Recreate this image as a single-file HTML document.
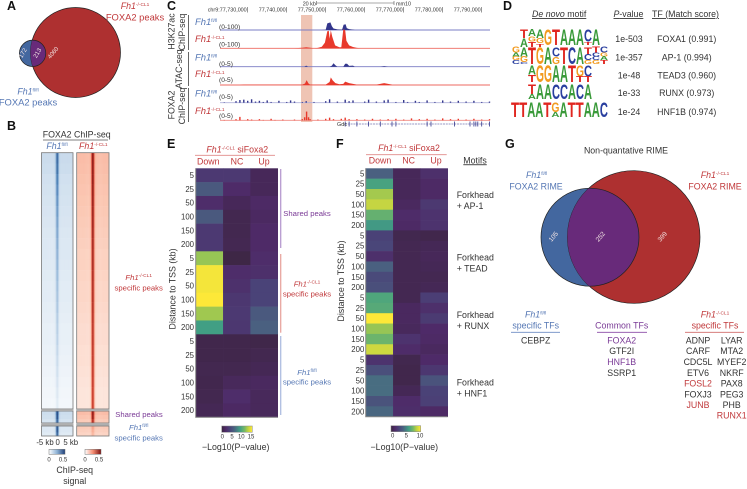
<!DOCTYPE html>
<html lang="en">
<head>
<meta charset="utf-8">
<title>FOXA2 figure</title>
<style>
html,body{margin:0;padding:0;background:#fff;width:747px;height:489px;overflow:hidden}
svg{display:block;font-family:"Liberation Sans",sans-serif;filter:blur(.3px)}
text{fill:#333;font-size:8.8px}
.m{text-anchor:middle}.r{text-anchor:end}
.red{fill:#c0383a}.blue{fill:#5577b4}.pur{fill:#7a3a96}
.s7{font-size:7.7px}.tick{font-size:7.8px}
.pl{font-size:12.5px;font-weight:bold;fill:#111}
.it{font-style:italic}
.sup{font-size:4.8px}
.vn{fill:#f3e4e4;font-size:6px}
.rng{font-size:6.6px}
.co{font-size:5.4px}
.fh{font-size:9.4px;font-style:italic}
</style>
</head>
<body>
<svg id="fig" width="747" height="489" viewBox="0 0 747 489" xmlns="http://www.w3.org/2000/svg">
<defs>
<clipPath id="clipA"><circle cx="75.5" cy="52.5" r="45"/></clipPath>
<clipPath id="clipG"><circle cx="633.7" cy="237" r="66.3"/></clipPath>
<linearGradient id="gradVir"><stop offset="0" stop-color="#3b2640"/><stop offset=".13" stop-color="#4e2a68"/><stop offset=".27" stop-color="#4a4478"/><stop offset=".4" stop-color="#4a6080"/><stop offset=".6" stop-color="#419f84"/><stop offset=".75" stop-color="#77b966"/><stop offset=".85" stop-color="#b7d044"/><stop offset="1" stop-color="#fde838"/></linearGradient>
<linearGradient id="gradBlue"><stop offset="0" stop-color="#fff"/><stop offset=".5" stop-color="#8fb3d6"/><stop offset="1" stop-color="#1f3f78"/></linearGradient>
<linearGradient id="gradRed"><stop offset="0" stop-color="#fff"/><stop offset=".5" stop-color="#f58d72"/><stop offset="1" stop-color="#7a1010"/></linearGradient>
</defs>

<!-- Panel letters -->
<text class="pl" x="7" y="10">A</text>
<text class="pl" x="7" y="130">B</text>
<text class="pl" x="167" y="10">C</text>
<text class="pl" x="503" y="10">D</text>
<text class="pl" x="167" y="148">E</text>
<text class="pl" x="336" y="148">F</text>
<text class="pl" x="505" y="148">G</text>

<!-- Panel A -->
<g>
<circle cx="32.6" cy="53.3" r="13.2" fill="#43679f" stroke="#222" stroke-width=".7"/>
<circle cx="75.5" cy="52.5" r="45" fill="#ae3030" stroke="#222" stroke-width=".7"/>
<circle cx="32.6" cy="53.3" r="13.2" fill="#682a7a" stroke="#222" stroke-width=".7" clip-path="url(#clipA)"/>
<text class="vn m" transform="translate(24.5,54) rotate(-60)">172</text>
<text class="vn m" transform="translate(39,54) rotate(-60)">213</text>
<text class="vn m" transform="translate(54.5,54) rotate(-50)">4060</text>
</g>
<text class="m red" x="135" y="9"><tspan class="it">Fh1</tspan><tspan class="sup" dy="-3">-/-CL1</tspan></text>
<text class="m red" x="135" y="20.5" style="font-size:9.4px">FOXA2 peaks</text>
<text class="m blue" x="28" y="94.5"><tspan class="it">Fh1</tspan><tspan class="sup" dy="-3">fl/fl</tspan></text>
<text class="m blue" x="28" y="105.7" style="font-size:9.4px">FOXA2 peaks</text>

<!-- Panel B static -->
<text class="m" x="76.7" y="137.3">FOXA2 ChIP-seq</text>
<line x1="43" x2="108" y1="140" y2="140" stroke="#555" stroke-width=".8"/>
<text class="m blue" x="57" y="149"><tspan class="it">Fh1</tspan><tspan class="sup" dy="-3">fl/fl</tspan></text>
<text class="m red" x="93.3" y="149"><tspan class="it">Fh1</tspan><tspan class="sup" dy="-3">-/-CL1</tspan></text>
<g id="chipHeat"></g>
<text class="m red s7" x="138.7" y="280"><tspan class="it">Fh1</tspan><tspan class="sup" dy="-3">-/-CL1</tspan></text>
<text class="m red s7" x="138.7" y="290.5">specific peaks</text>
<text class="m pur s7" x="139" y="417">Shared peaks</text>
<text class="m blue s7" x="138.7" y="430"><tspan class="it">Fh1</tspan><tspan class="sup" dy="-3">fl/fl</tspan></text>
<text class="m blue s7" x="138.7" y="440.5">specific peaks</text>
<text class="m tick" x="45" y="445">-5 kb</text>
<text class="m tick" x="57.7" y="445">0</text>
<text class="m tick" x="70.7" y="445">5 kb</text>
<rect x="49" y="449.3" width="16" height="5" fill="url(#gradBlue)" stroke="#777" stroke-width=".5"/>
<rect x="85" y="449.3" width="16" height="5" fill="url(#gradRed)" stroke="#777" stroke-width=".5"/>
<text class="m" style="font-size:6px" x="49" y="461.7">0</text>
<text class="m" style="font-size:6px" x="63" y="461.7">0.5</text>
<text class="m" style="font-size:6px" x="85" y="461.7">0</text>
<text class="m" style="font-size:6px" x="99" y="461.7">0.5</text>
<text class="m" x="74.7" y="473">ChIP-seq</text>
<text class="m" x="74.7" y="484">signal</text>

<!-- Panel C static -->
<rect x="301" y="15" width="11.3" height="107" fill="#efc4b4"/>
<text class="co" x="302.7" y="5.5">20 kb</text>
<path d="M316.7 1V5M316.7 3H394M394 1V5" stroke="#555" stroke-width=".6" fill="none"/>
<text class="co" x="396" y="5.5">mm10</text>
<g id="genomeAxis"></g>
<g id="tracks"></g>
<text class="m" transform="translate(174.5,31.5) rotate(-90)">H3K27ac</text>
<text class="m" transform="translate(185,32) rotate(-90)">ChIP-seq</text>
<text class="m" transform="translate(182,69) rotate(-90)">ATAC-seq</text>
<text class="m" transform="translate(174.5,105) rotate(-90)">FOXA2</text>
<text class="m" transform="translate(185,106) rotate(-90)">ChIP-seq</text>
<path d="M188.5 15V50M188.5 52V86M188.5 88V122" stroke="#555" stroke-width=".9" fill="none"/>
<text class="fh blue" x="195" y="25">Fh1<tspan class="sup" dy="-3" style="font-style:normal">fl/fl</tspan></text>
<text class="fh red" x="195" y="42">Fh1<tspan class="sup" dy="-3" style="font-style:normal">-/-CL1</tspan></text>
<text class="fh blue" x="195" y="60.7">Fh1<tspan class="sup" dy="-3" style="font-style:normal">fl/fl</tspan></text>
<text class="fh red" x="195" y="77">Fh1<tspan class="sup" dy="-3" style="font-style:normal">-/-CL1</tspan></text>
<text class="fh blue" x="195" y="96.7">Fh1<tspan class="sup" dy="-3" style="font-style:normal">fl/fl</tspan></text>
<text class="fh red" x="195" y="114">Fh1<tspan class="sup" dy="-3" style="font-style:normal">-/-CL1</tspan></text>
<text class="rng" x="219" y="29">(0-100)</text>
<text class="rng" x="219" y="46.5">(0-100)</text>
<text class="rng" x="219" y="66">(0-5)</text>
<text class="rng" x="219" y="82">(0-5)</text>
<text class="rng" x="219" y="99">(0-5)</text>
<text class="rng" x="219" y="118">(0-5)</text>
<text class="co" x="337" y="126">Gdc</text>

<!-- Panel D static -->
<text class="it" x="532" y="17" text-decoration="underline">De novo <tspan style="font-style:normal">motif</tspan></text>
<text x="613.5" y="17" text-decoration="underline"><tspan class="it">P</tspan>-value</text>
<text x="652" y="17" text-decoration="underline">TF (Match score)</text>
<g id="logos"></g>
<g id="motifTable"></g>

<!-- Panel E/F static -->
<text class="m red" x="237.3" y="152.7"><tspan class="it">Fh1</tspan><tspan class="sup" dy="-3">-/-CL1</tspan><tspan dy="3"> siFoxa2</tspan></text>
<line x1="195" x2="275" y1="155.3" y2="155.3" stroke="#e08a88" stroke-width=".9"/>
<g id="heatE"></g>
<text class="m" transform="translate(175.5,289) rotate(-90)">Distance to TSS (kb)</text>
<line x1="280.7" x2="280.7" y1="169" y2="248" stroke="#b79ad0" stroke-width="1.3"/>
<line x1="280.7" x2="280.7" y1="254" y2="332.7" stroke="#e8a5a0" stroke-width="1.3"/>
<line x1="280.7" x2="280.7" y1="336" y2="415" stroke="#aebde0" stroke-width="1.3"/>
<text class="m pur s7" x="307" y="216">Shared peaks</text>
<text class="m red s7" x="307" y="286.7"><tspan class="it">Fh1</tspan><tspan class="sup" dy="-3">-/-CL1</tspan></text>
<text class="m red s7" x="307" y="296.5">specific peaks</text>
<text class="m blue s7" x="307" y="375"><tspan class="it">Fh1</tspan><tspan class="sup" dy="-3">fl/fl</tspan></text>
<text class="m blue s7" x="307" y="384.5">specific peaks</text>
<rect x="221.7" y="426" width="30.6" height="6.3" fill="url(#gradVir)" stroke="#888" stroke-width=".5"/>
<text class="m" style="font-size:6px" x="222.3" y="438.3">0</text>
<text class="m" style="font-size:6px" x="232" y="438.3">5</text>
<text class="m" style="font-size:6px" x="241.3" y="438.3">10</text>
<text class="m" style="font-size:6px" x="251" y="438.3">15</text>
<text class="m" x="235.7" y="450">&#8722;Log10(P&#8722;value)</text>

<text class="m red" x="409" y="151"><tspan class="it">Fh1</tspan><tspan class="sup" dy="-3">-/-CL1</tspan><tspan dy="3"> siFoxa2</tspan></text>
<line x1="366" x2="446.7" y1="154.7" y2="154.7" stroke="#e08a88" stroke-width=".9"/>
<g id="heatF"></g>
<text class="m" transform="translate(344,281) rotate(-90)">Distance to TSS (kb)</text>
<text x="463.3" y="163.3" text-decoration="underline">Motifs</text>
<text x="456.7" y="198">Forkhead</text>
<text x="456.7" y="209">+ AP-1</text>
<text x="456.7" y="260.7">Forkhead</text>
<text x="456.7" y="271.7">+ TEAD</text>
<text x="456.7" y="318">Forkhead</text>
<text x="456.7" y="329">+ RUNX</text>
<text x="456.7" y="385.7">Forkhead</text>
<text x="456.7" y="396.5">+ HNF1</text>
<rect x="391" y="425.7" width="29.7" height="6" fill="url(#gradVir)" stroke="#888" stroke-width=".5"/>
<text class="m" style="font-size:6px" x="392.7" y="437.7">0</text>
<text class="m" style="font-size:6px" x="406.3" y="437.7">5</text>
<text class="m" style="font-size:6px" x="420" y="437.7">10</text>
<text class="m" x="404.3" y="450">&#8722;Log10(P&#8722;value)</text>

<!-- Panel G -->
<text class="m" x="626" y="153.3">Non-quantative RIME</text>
<text class="m blue" x="536.7" y="178"><tspan class="it">Fh1</tspan><tspan class="sup" dy="-3">fl/fl</tspan></text>
<text class="m blue" x="536" y="189.3">FOXA2 RIME</text>
<text class="m red" x="715" y="178"><tspan class="it">Fh1</tspan><tspan class="sup" dy="-3">-/-CL1</tspan></text>
<text class="m red" x="715" y="189.3">FOXA2 RIME</text>
<g>
<circle cx="590" cy="237.2" r="49" fill="#43679f" stroke="#222" stroke-width=".7"/>
<circle cx="633.7" cy="237" r="66.3" fill="#ae3030" stroke="#222" stroke-width=".7"/>
<circle cx="590" cy="237.2" r="49" fill="#682a7a" stroke="#222" stroke-width=".7" clip-path="url(#clipG)"/>
<text class="vn m" style="font-size:6.5px" transform="translate(555,238) rotate(-50)">105</text>
<text class="vn m" style="font-size:6.5px" transform="translate(602,238) rotate(-50)">252</text>
<text class="vn m" style="font-size:6.5px" transform="translate(664,238) rotate(-50)">399</text>
</g>
<text class="m blue" x="535.7" y="317.3"><tspan class="it">Fh1</tspan><tspan class="sup" dy="-3">fl/fl</tspan></text>
<text class="m blue" x="535.7" y="328.3">specific TFs</text>
<line x1="511" x2="560" y1="332.3" y2="332.3" stroke="#6d8cc4" stroke-width=".9"/>
<text class="m" x="535.7" y="343.3">CEBPZ</text>
<text class="m pur" x="621.7" y="328.3">Common TFs</text>
<line x1="597" x2="647" y1="332.3" y2="332.3" stroke="#8a4aa6" stroke-width=".9"/>
<text class="m pur" x="621.7" y="343.3">FOXA2</text>
<text class="m" x="621.7" y="354">GTF2I</text>
<text class="m pur" x="621.7" y="365">HNF1B</text>
<text class="m" x="621.7" y="376">SSRP1</text>
<text class="m red" x="715" y="317.3"><tspan class="it">Fh1</tspan><tspan class="sup" dy="-3">-/-CL1</tspan></text>
<text class="m red" x="715" y="328.3">specific TFs</text>
<line x1="685" x2="744" y1="332.3" y2="332.3" stroke="#d06a68" stroke-width=".9"/>
<text class="m" x="698" y="343.3">ADNP</text>
<text class="m" x="731.7" y="343.3">LYAR</text>
<text class="m" x="698" y="354">CARF</text>
<text class="m" x="731.7" y="354">MTA2</text>
<text class="m" x="698" y="365">CDC5L</text>
<text class="m" x="731.7" y="365">MYEF2</text>
<text class="m" x="698" y="376">ETV6</text>
<text class="m" x="731.7" y="376">NKRF</text>
<text class="m red" x="698" y="386.7">FOSL2</text>
<text class="m" x="731.7" y="386.7">PAX8</text>
<text class="m" x="698" y="397.5">FOXJ3</text>
<text class="m" x="731.7" y="397.5">PEG3</text>
<text class="m red" x="698" y="408">JUNB</text>
<text class="m" x="731.7" y="408">PHB</text>
<text class="m red" x="731.7" y="418.7">RUNX1</text>
</svg>

<script>
// ---------- Heatmap data ----------
const heatColumns = ['Down', 'NC', 'Up'];
const heatERows = ['5','25','50','100','150','200','5','25','50','100','150','200','5','25','50','100','150','200'];
const heatEDown = [3.2,5.5,2.2,5.5,3.2,3.2,12,14.7,14.7,15,12.2,9,0.6,0.6,0.8,0.7,0.8,1];
const heatENC = [3.2,2,1.2,0.8,0.8,0.9,0.3,2.2,2.5,3,3.2,3,0.6,0.6,0.8,1.3,2.2,1.7];
const heatEUp = [1.2,1.2,1.8,1.6,1.9,1.9,2.2,2.4,4,4,5.5,6,0.5,0.8,1,1.5,1.3,1.3];
const heatEMax = 15;
const heatFRows = ['5','25','50','100','150','200','5','25','50','100','150','200','5','25','50','100','150','200','5','25','50','100','150','200'];
const heatFDown = [4,6.2,8.2,8.8,7,5.8,2.6,2.8,1.6,4,3,3.2,6.4,6.6,10,8,7.2,9,1.8,3.2,4.4,4.4,3.4,4.2];
const heatFNC = [0.8,0.8,0.8,1,1.4,1.2,0.5,0.6,0.6,0.6,0.6,0.6,0.6,1,1,0.9,1.8,1.4,0.5,0.4,0.4,0.7,1.4,1.5];
const heatFUp = [1.6,1.2,1.2,2.1,1.8,1.8,0.4,0.7,0.8,0.7,0.6,0.7,2.4,1.6,2.2,1.3,1.2,1,1.3,2,3.4,2.6,2.5,1.2];
const heatFMax = 10;

// ---------- ChIP heatmap data ----------
const chipFlank = [1,1,1,1,1,1,1,1,1,1,1,1,1,1,1,1,1,1,1,1,1,1,1,1,1,1,1,1,1,1,1];
const chipPeak = [0,0,0,0,0,0,0,0,0,0,0,0,.02,.1,.6,1,.6,.1,.02,0,0,0,0,0,0,0,0,0,0,0,0];
const chipWtFlankGain = [.27,.26,.24,.23,.22,.21,.2,.19,.18,.18,.17,.16,.15,.15,.14,.13,.12,.12,.11,.1,.09,.08,.07,.06];
const chipWtPeakGain = [.62,.6,.56,.52,.48,.45,.42,.4,.38,.35,.34,.32,.3,.28,.27,.25,.24,.22,.2,.18,.16,.14,.12,.1];
const chipKoFlankGain = [.3,.29,.28,.27,.26,.25,.24,.23,.22,.21,.21,.2,.19,.19,.18,.17,.16,.16,.15,.15,.14,.13,.12,.12];
const chipKoPeakGain = [.72,.72,.72,.72,.72,.72,.72,.72,.72,.72,.72,.72,.72,.72,.72,.72,.72,.72,.72,.72,.72,.72,.72,.72];
const chipSections = ['ko-specific', 'shared', 'wt-specific'];
const chipSectionRows = [24, 3, 3];
const sharedWtFlank = [.26,.25,.22];
const sharedWtPeak = [.8,.75,.7];
const sharedKoFlank = [.3,.27,.24];
const sharedKoPeak = [.7,.72,.66];
const wtSpecWtFlank = [.18,.18,.16];
const wtSpecWtPeak = [.8,.8,.75];
const wtSpecKoFlank = [.24,.22,.2];
const wtSpecKoPeak = [.18,.16,.14];

// ---------- Genome tracks (kb from 77,730,000) ----------
const genomeTickKb = [0,10,20,30,40,50,60];
const genomeTickLabels = ['chr9:77,730,000','77,740,000','77,750,000','77,760,000','77,770,000','77,780,000','77,790,000'];
const h3k27WtKb = [19,20,20.4,21.2,21.6,22,23,24.2,24.6,25.1,25.4,26,27,27.5];
const h3k27WtVal = [0,1,35,40,20,8,3,2,28,30,10,5,2,0];
const h3k27KoKb = [12,14,15,16,17,18,19,19.8,20.4,20.8,21,21.3,21.7,22.4,23.5,24,24.5,25,25.3,26,27,28,29];
const h3k27KoVal = [0,3,5,3,0,2,8,30,90,92,50,95,60,15,6,6,100,95,40,15,7,2,0];
const atacWtKb = [14.5,15,15.5,21,21.6,22,22.5,23,24.5,25,25.5,26,27,27.5,34,35,36];
const atacWtVal = [0,.3,0,0,.3,.9,.4,0,0,.8,.8,.2,.3,0,0,.15,0];
const atacKoKb = [-2,-1,14,14.7,15.1,15.6,16,20,21,21.3,21.8,22.5,23.5,24.5,25,26,27,28,33,35,37];
const atacKoVal = [0,.1,.1,.4,1.3,.4,.1,.1,.8,2,1.2,.5,.2,.3,.9,.5,.3,.1,.1,.5,.1];
const foxa2WtKb = [-6,-3,-2,-1,0,1,2,3,4,5,6,8,10,11,12,14,15,17,20,21,23,25,26,27,30,31,33,35,36,38,40,41,43,44,46,48,50,52,54,56,58,60,62];
const foxa2WtVal = [.1,.4,.7,.8,.5,.9,.3,.5,.2,.6,.2,.5,.2,.6,.3,.2,.4,.2,.4,.9,.3,.8,.4,.6,.3,.8,.3,.6,.8,.2,.7,.2,.5,.2,.6,.2,.6,.3,.5,.3,.5,.2,.3];
const foxa2KoKb = [-6,-3,-2,0,1,3,4,6,7,9,12,14,14.6,15.1,15.6,16,18,20,21,22,24,25,26,28,30,32,34,36,38,40,42,44,46,48,50,52,54,56,58,60,62];
const foxa2KoVal = [.1,.3,.9,.3,.2,.3,.1,.4,.1,.2,.2,.3,.8,2.3,.8,.3,.2,.4,.7,.3,.4,.7,.3,.3,.2,.4,.2,.3,.4,.2,.5,.3,.4,.2,.5,.3,.4,.2,.4,.2,.3];
const geneExonKb = [25,26,28,31,34,37,38,46,47,53,57,58,58.5,59,60,62];

// ---------- Motif table ----------
const motifPValues = ['1e-503','1e-357','1e-48','1e-33','1e-24'];
const motifTFs = ['FOXA1 (0.991)','AP-1 (0.994)','TEAD3 (0.960)','RUNX (0.973)','HNF1B (0.974)'];
const logoRow1 = ['T5A5','A4G3T3','A5G3T2','G9','T9','A9','A9','A9','C7T2','A9'];
const logoRow2 = ['G3A2G2C2','A5G3C1','T9','G9','A9','C5G4','T9','C9','A9','T4C3G2','T3C2C2G2','C3G2A2T2'];
const logoRow3 = ['A5T4','G9','G9','A9','A9','T9','G6T3','C6T3'];
const logoRow4 = ['T6A3','A9','A9','C9','C9','A9','C9','A9'];
const logoRow5 = ['T9','T9','A9','A9','T9','G6A3','A9','T9','T9','A9','A9','C9'];

const NS = 'http://www.w3.org/2000/svg';
function make(tag, attrs, parent) {
  const e = document.createElementNS(NS, tag);
  for (const k in attrs) e.setAttribute(k, attrs[k]);
  parent.appendChild(e);
  return e;
}
function hex2(a){return [parseInt(a.slice(1,3),16),parseInt(a.slice(3,5),16),parseInt(a.slice(5,7),16)];}
function ramp(stops, t) {
  t = Math.max(0, Math.min(1, t));
  for (let i = 1; i < stops.length; i++) {
    if (t <= stops[i][0]) {
      const a = stops[i-1], b = stops[i], f = (t-a[0])/(b[0]-a[0]);
      const ca = hex2(a[1]), cb = hex2(b[1]);
      return 'rgb(' + ca.map((c,j)=>Math.round(c+(cb[j]-c)*f)).join(',') + ')';
    }
  }
  return stops[stops.length-1][1];
}
const virStops = [[0,'#3b2640'],[.13,'#4e2a68'],[.27,'#4a4478'],[.4,'#4a6080'],[.6,'#419f84'],[.75,'#77b966'],[.85,'#b7d044'],[1,'#fde838']];
const blueStops = [[0,'#ffffff'],[.25,'#cfdfee'],[.5,'#8fb3d6'],[.8,'#3f76b0'],[1,'#1f3f78']];
const redStops = [[0,'#ffffff'],[.25,'#fbc9b5'],[.5,'#f58d72'],[.8,'#cb2f22'],[1,'#7a1010']];

// ---------- Viridis-style heatmaps ----------
function drawHeat(root, prefix, rows, cols, max, left, right, top, bottom, labelRight, headerY, headerXs) {
  const cw = (right-left)/3, rh = (bottom-top)/rows.length;
  const xScale = c => left + c*cw;
  const yScale = r => top + r*rh;
  cols.forEach((series, c) => {
    series.forEach((v, r) => {
      const cell = make('rect', {x:xScale(c), y:yScale(r), width:cw+.3, height:rh+.3, fill:ramp(virStops, v/max)}, root);
      
      
    });
  });
  rows.forEach((label, r) => {
    const t = make('text', {x:labelRight, y:yScale(r)+rh/2+2.8, class:'r tick'}, root);
    t.textContent = label;
    
    
  });
  heatColumns.forEach((label, c) => {
    const t = make('text', {x:headerXs[c], y:headerY, class:'m red'}, root);
    t.textContent = label;
    
    
  });
  const frame = make('path', {d:'M'+left+' '+top+'V'+bottom+'H'+right, stroke:'#888', 'stroke-width':1, fill:'none'}, root);
  
  
}
drawHeat(document.getElementById('heatE'), 'heatmap-e', heatERows, [heatEDown, heatENC, heatEUp], heatEMax, 195.7, 277.7, 168.3, 417.3, 194, 164.7, [208.3,237,264]);
drawHeat(document.getElementById('heatF'), 'heatmap-f', heatFRows, [heatFDown, heatFNC, heatFUp], heatFMax, 365.7, 447.7, 168.3, 416.7, 364.3, 163.3, [380,408.7,436]);

// ---------- ChIP heatmaps ----------
function drawChip(root, prefix, left, right, stops, gains) {
  const cw = (right-left)/chipPeak.length;
  const tops = [152.7, 411, 426], bottoms = [409, 423, 436];
  gains.forEach((g, s) => {
    const rows = g.flank.length, rh = (bottoms[s]-tops[s])/rows;
    for (let r = 0; r < rows; r++) {
      chipPeak.forEach((pk, c) => {
        const v = chipFlank[c]*g.flank[r] + pk*g.peak[r];
        const cell = make('rect', {x:left+c*cw, y:tops[s]+r*rh, width:cw+.2, height:rh+.2, fill:ramp(stops, v)}, root);
        
        
      });
    }
    const frame = make('rect', {x:left, y:tops[s], width:right-left, height:bottoms[s]-tops[s], fill:'none', stroke:'#777', 'stroke-width':.8}, root);
    
    
  });
  [410, 424.5].forEach(y => {
    const sep = make('rect', {x:left-.5, y:y-.8, width:right-left+1, height:1.8, fill:'#b0b0b0'}, root);
    
    
  });
}
const chipRoot = document.getElementById('chipHeat');
drawChip(chipRoot, 'chip-wt', 41.5, 73, blueStops, [{flank:chipWtFlankGain, peak:chipWtPeakGain},{flank:sharedWtFlank, peak:sharedWtPeak},{flank:wtSpecWtFlank, peak:wtSpecWtPeak}]);
drawChip(chipRoot, 'chip-ko', 76.7, 109, redStops, [{flank:chipKoFlankGain, peak:chipKoPeakGain},{flank:sharedKoFlank, peak:sharedKoPeak},{flank:wtSpecKoFlank, peak:wtSpecKoPeak}]);

// ---------- Genome browser ----------
const gx = kb => 247.7 + kb*3.9;
const axisRoot = document.getElementById('genomeAxis');
genomeTickKb.forEach((kb, i) => {
  const tk = make('line', {x1:gx(kb), x2:gx(kb), y1:7, y2:12.5, stroke:'#555', 'stroke-width':.6}, axisRoot);
  
  
  const t = make('text', {x:gx(kb)-1, y:11.5, class:'r co'}, axisRoot);
  t.textContent = genomeTickLabels[i];
  
  
});
function trackBase(root, name, baseY, lineCol) {
  const base = make('line', {x1:220, x2:490, y1:baseY, y2:baseY, stroke:lineCol, 'stroke-width':.9}, root);
  
  
}
function drawTrack(root, name, kb, val, max, baseY, px, fill, lineCol) {
  const y = v => baseY - v/max*px;
  const pts = [[gx(kb[0]), baseY]];
  kb.forEach((k, i) => pts.push([gx(k), y(val[i])]));
  pts.push([gx(kb[kb.length-1]), baseY]);
  trackBase(root, name, baseY, lineCol);
  const poly = make('polygon', {points:pts.map(p=>p[0].toFixed(1)+','+p[1].toFixed(1)).join(' '), fill:fill}, root);
  
  
}
function drawSpikes(root, name, kb, val, max, baseY, px, fill, lineCol) {
  const y = v => baseY - v/max*px;
  trackBase(root, name, baseY, lineCol);
  kb.forEach((k, i) => {
    const bar = make('rect', {x:gx(k)-.7, y:y(val[i]), width:1.4, height:baseY-y(val[i]), fill:fill}, root);
    
    
  });
}
const trackRoot = document.getElementById('tracks');
drawTrack(trackRoot, 'track-h3k27ac-wt', h3k27WtKb, h3k27WtVal, 100, 30, 19, '#33368c', '#7a7cc4');
drawTrack(trackRoot, 'track-h3k27ac-ko', h3k27KoKb, h3k27KoVal, 100, 48.3, 19, '#e8392c', '#ee6a60');
drawTrack(trackRoot, 'track-atac-wt', atacWtKb, atacWtVal, 5, 66.7, 19, '#33368c', '#7a7cc4');
drawTrack(trackRoot, 'track-atac-ko', atacKoKb, atacKoVal, 5, 85, 19, '#e8392c', '#ee6a60');
drawSpikes(trackRoot, 'track-foxa2-wt', foxa2WtKb, foxa2WtVal, 5, 102.7, 19, '#33368c', '#b0b2dc');
drawSpikes(trackRoot, 'track-foxa2-ko', foxa2KoKb, foxa2KoVal, 5, 120.3, 19, '#e8392c', '#f08a82');
const geneLine = make('line', {x1:345, x2:490, y1:124, y2:124, stroke:'#33368c', 'stroke-width':.6, 'stroke-dasharray':'2 .8'}, trackRoot);


geneExonKb.forEach(kb => {
  const ex = make('line', {x1:gx(kb), x2:gx(kb), y1:121.5, y2:126.5, stroke:'#33368c', 'stroke-width':.8}, trackRoot);
  
  
});

// ---------- Motif logos ----------
const logoColors = {A:'#3a9a3a', C:'#2a3f9f', G:'#f29b20', T:'#e0251f'};
const logoAdvance = {A:7.22, C:7.22, G:7.78, T:6.11};
function drawLogo(root, idx, stacks, left, top, h, cw) {
  stacks.forEach((stack, c) => {
    let y = top;
    for (let i = 0; i < stack.length; i += 2) {
      const ch = stack[i], lh = (+stack[i+1])/9*h;
      const t = make('text', {
        transform:'translate('+(left+c*cw).toFixed(1)+','+(y+lh).toFixed(1)+') scale('+(cw/logoAdvance[ch]).toFixed(3)+','+(lh/7.2).toFixed(3)+')',
        style:'font-size:10px;font-weight:bold;fill:'+logoColors[ch]
      }, root);
      t.textContent = ch;
      
      
      y += lh;
    }
  });
}
const logoRoot = document.getElementById('logos');
drawLogo(logoRoot, 1, logoRow1, 520, 29, 16, 8);
drawLogo(logoRoot, 2, logoRow2, 512, 47, 17, 8);
drawLogo(logoRoot, 3, logoRow3, 528, 65, 17, 8);
drawLogo(logoRoot, 4, logoRow4, 528, 84, 15, 8);
drawLogo(logoRoot, 5, logoRow5, 511, 102, 15, 8.08);

// ---------- Motif table ----------
const tableRoot = document.getElementById('motifTable');
const motifRowY = [42.2, 60.5, 78.5, 96.2, 114.9];
motifPValues.forEach((p, i) => {
  const a = make('text', {x:629, y:motifRowY[i], class:'m'}, tableRoot);
  a.textContent = p;
  
  
  const b = make('text', {x:686.7, y:motifRowY[i], class:'m'}, tableRoot);
  b.textContent = motifTFs[i];
  
  
});
</script>
</body>
</html>
